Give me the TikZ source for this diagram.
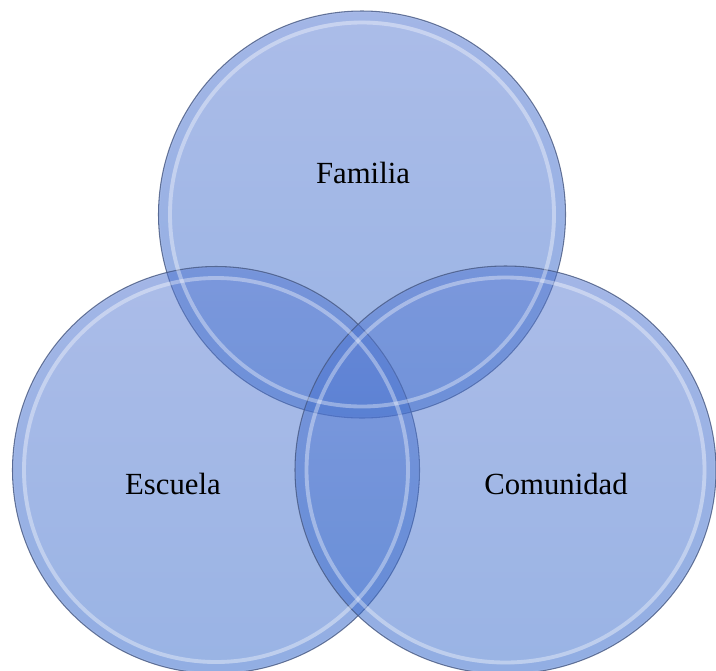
\documentclass[tikz,border=0pt]{standalone}
\usepackage{fontspec}
\setmainfont{Liberation Serif}
\usetikzlibrary{positioning}
\definecolor{vennlight}{RGB}{88,122,210}
\definecolor{venndark}{RGB}{52,104,202}
\definecolor{vennedge}{RGB}{70,88,130}
\tikzset{
    venncirc/.style={top color=vennlight, bottom color=venndark, fill opacity=0.5, draw=vennedge, draw opacity=0.8, line width=0.6pt},
    vennrim/.style={draw=venndark, line width=4.5pt, draw opacity=0.07},
    vennglow/.style={draw=white, line width=2.2pt, draw opacity=0.35},
    vennlabel/.style={anchor=base, font=\fontsize{17.5}{20}\selectfont, text=black},
}
\begin{document}
\begin{tikzpicture}[x=0.02cm, y=-0.02cm]
            \useasboundingbox (0,0) rectangle (716,670);
            % the three sets
            \shade[venncirc] (362,214.5) circle (203.5);
            \shade[venncirc] (216,470) circle (203.5);
            \shade[venncirc] (505.5,470) ellipse [x radius=210.5, y radius=204];
            % bevel: darker rim, then a light ring inside it
            \draw[vennrim] (362,214.5) circle (198);
            \draw[vennrim] (216,470) circle (198);
            \draw[vennrim] (505.5,470) ellipse [x radius=205, y radius=198.5];
            \draw[vennglow] (362,214.5) circle (192);
            \draw[vennglow] (216,470) circle (192);
            \draw[vennglow] (505.5,470) ellipse [x radius=199, y radius=192.5];
            % labels
            \node[vennlabel] (familia) at (363,183) {Familia};
            \node[vennlabel] (escuela) at (173,494) {Escuela};
            \node[vennlabel] (comunidad) at (556,494) {Comunidad};
        \end{tikzpicture}
\end{document}
